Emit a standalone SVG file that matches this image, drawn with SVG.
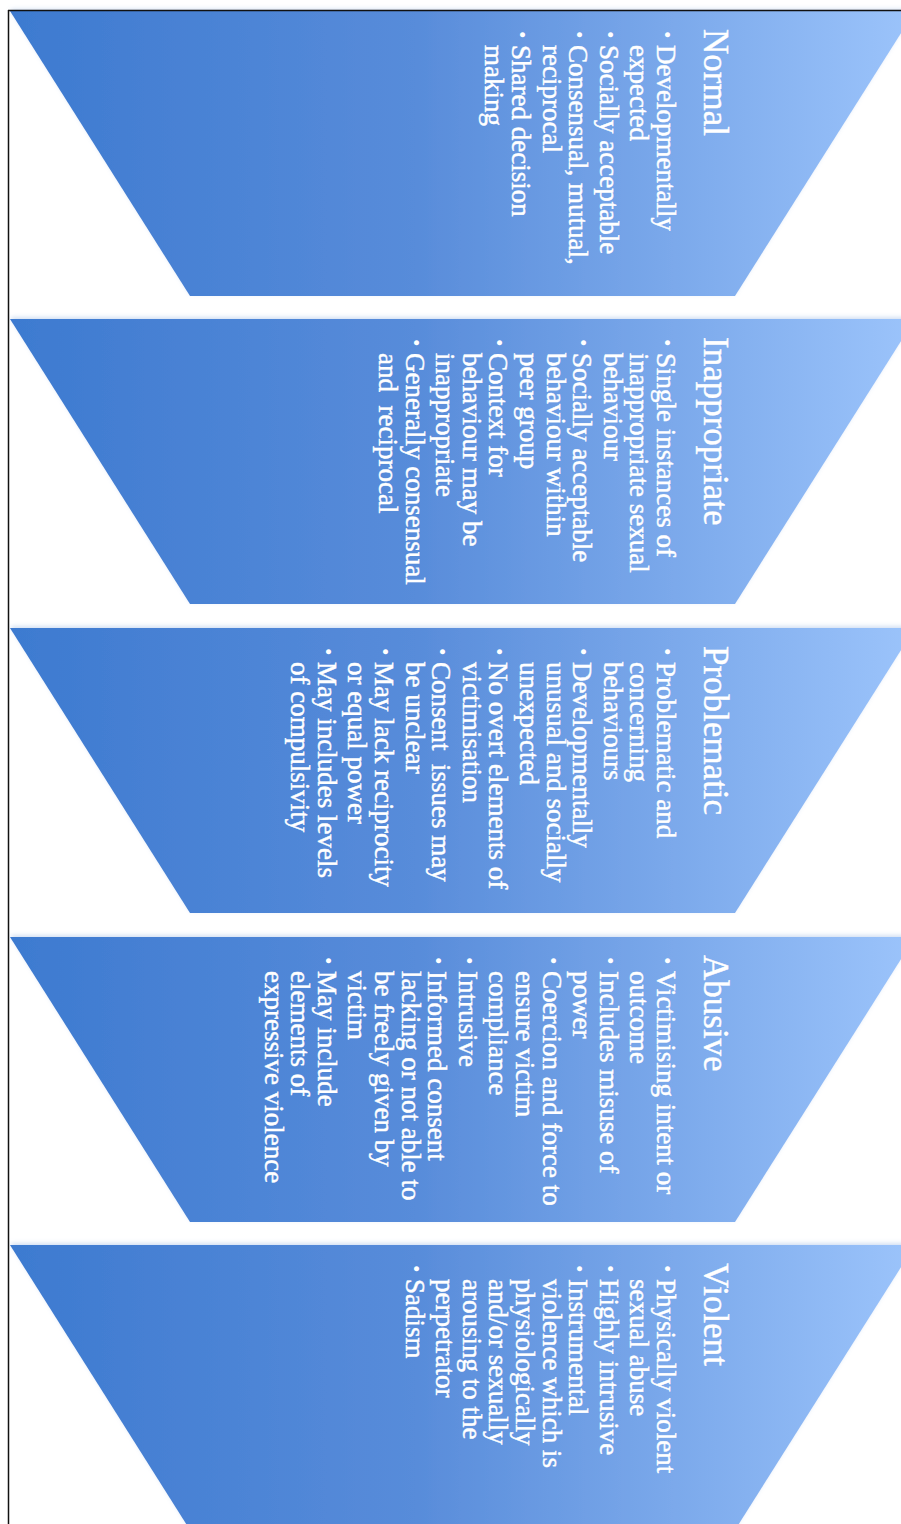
<svg xmlns="http://www.w3.org/2000/svg" width="901" height="1524" viewBox="0 0 901 1524">
<defs>
  <linearGradient id="grad" gradientUnits="userSpaceOnUse" x1="10" y1="0" x2="915" y2="0">
    <stop offset="0" stop-color="#3d7ad0"/>
    <stop offset="0.45" stop-color="#588cda"/>
    <stop offset="1" stop-color="#9cc4fb"/>
  </linearGradient>
  <filter id="sh" x="-5%" y="-5%" width="110%" height="110%">
    <feDropShadow dx="0" dy="-2" stdDeviation="2" flood-color="#7fa6dc" flood-opacity="0.35"/>
  </filter>
  <style>
    .trap { fill: url(#grad); filter: url(#sh); }
    .h { font-family: "Liberation Serif", "Times New Roman", serif; font-size: 35px; fill: #ffffff; stroke: #ffffff; stroke-width: 0.4px; }
    .b { font-family: "Liberation Serif", "Times New Roman", serif; font-size: 27px; fill: #ffffff; stroke: #ffffff; stroke-width: 0.45px; }
    .d { font-family: "Liberation Serif", "Times New Roman", serif; font-size: 21px; fill: #ffffff; }
    .frame { stroke: #111111; stroke-width: 1.5; fill: none; }
  </style>
</defs>
<rect x="0" y="0" width="901" height="1524" fill="#ffffff"/>

<g id="node-normal">
  <polygon class="trap" points="10,11 915,11 735,296 190,296"/>
  <g transform="translate(704,29) rotate(90)">
    <text class="h" x="0" y="0">Normal</text>
    <text class="d" x="2" y="44">•</text><text class="b" x="16" y="47">Developmentally</text>
    <text class="b" x="16" y="73.6">expected</text>
    <text class="d" x="2" y="101.2">•</text><text class="b" x="16" y="104.2">Socially acceptable</text>
    <text class="d" x="2" y="131.8">•</text><text class="b" x="16" y="134.8">Consensual, mutual,</text>
    <text class="b" x="16" y="161.4">reciprocal</text>
    <text class="d" x="2" y="189">•</text><text class="b" x="16" y="192">Shared decision</text>
    <text class="b" x="16" y="218.6">making</text>
  </g>
</g>

<g id="node-inappropriate">
  <polygon class="trap" points="10,319 915,319 735,604 190,604"/>
  <g transform="translate(704,337) rotate(90)">
    <text class="h" x="0" y="0">Inappropriate</text>
    <text class="d" x="2" y="44">•</text><text class="b" x="16" y="47">Single instances of</text>
    <text class="b" x="16" y="73.6">inappropriate sexual</text>
    <text class="b" x="16" y="100.2">behaviour</text>
    <text class="d" x="2" y="127.8">•</text><text class="b" x="16" y="130.8">Socially acceptable</text>
    <text class="b" x="16" y="157.4">behaviour within</text>
    <text class="b" x="16" y="184">peer group</text>
    <text class="d" x="2" y="211.6">•</text><text class="b" x="16" y="214.6">Context for</text>
    <text class="b" x="16" y="241.2">behaviour may be</text>
    <text class="b" x="16" y="267.8">inappropriate</text>
    <text class="d" x="2" y="295.4">•</text><text class="b" x="16" y="298.4">Generally consensual</text>
    <text class="b" x="16" y="325" xml:space="preserve">and  reciprocal</text>
  </g>
</g>

<g id="node-problematic">
  <polygon class="trap" points="10,628 915,628 735,913 190,913"/>
  <g transform="translate(704,646) rotate(90)">
    <text class="h" x="0" y="0">Problematic</text>
    <text class="d" x="2" y="44">•</text><text class="b" x="16" y="47">Problematic and</text>
    <text class="b" x="16" y="73.6">concerning</text>
    <text class="b" x="16" y="100.2">behaviours</text>
    <text class="d" x="2" y="127.8">•</text><text class="b" x="16" y="130.8">Developmentally</text>
    <text class="b" x="16" y="157.4">unusual and socially</text>
    <text class="b" x="16" y="184">unexpected</text>
    <text class="d" x="2" y="211.6">•</text><text class="b" x="16" y="214.6">No overt elements of</text>
    <text class="b" x="16" y="241.2">victimisation</text>
    <text class="d" x="2" y="268.8">•</text><text class="b" x="16" y="271.8" xml:space="preserve">Consent  issues may</text>
    <text class="b" x="16" y="298.4">be unclear</text>
    <text class="d" x="2" y="326">•</text><text class="b" x="16" y="329">May lack reciprocity</text>
    <text class="b" x="16" y="355.6">or equal power</text>
    <text class="d" x="2" y="383.2">•</text><text class="b" x="16" y="386.2">May includes levels</text>
    <text class="b" x="16" y="412.8">of compulsivity</text>
  </g>
</g>

<g id="node-abusive">
  <polygon class="trap" points="10,937 915,937 735,1222 190,1222"/>
  <g transform="translate(704,955) rotate(90)">
    <text class="h" x="0" y="0">Abusive</text>
    <text class="d" x="2" y="44">•</text><text class="b" x="16" y="47">Victimising intent or</text>
    <text class="b" x="16" y="73.6">outcome</text>
    <text class="d" x="2" y="101.2">•</text><text class="b" x="16" y="104.2">Includes misuse of</text>
    <text class="b" x="16" y="130.8">power</text>
    <text class="d" x="2" y="158.4">•</text><text class="b" x="16" y="161.4">Coercion and force to</text>
    <text class="b" x="16" y="188">ensure victim</text>
    <text class="b" x="16" y="214.6">compliance</text>
    <text class="d" x="2" y="242.2">•</text><text class="b" x="16" y="245.2">Intrusive</text>
    <text class="d" x="2" y="272.8">•</text><text class="b" x="16" y="275.8">Informed consent</text>
    <text class="b" x="16" y="302.4">lacking or not able to</text>
    <text class="b" x="16" y="329">be freely given by</text>
    <text class="b" x="16" y="355.6">victim</text>
    <text class="d" x="2" y="383.2">•</text><text class="b" x="16" y="386.2">May include</text>
    <text class="b" x="16" y="412.8">elements of</text>
    <text class="b" x="16" y="439.4">expressive violence</text>
  </g>
</g>

<g id="node-violent">
  <polygon class="trap" points="10,1245 915,1245 735,1530 190,1530"/>
  <g transform="translate(704,1263) rotate(90)">
    <text class="h" x="0" y="0">Violent</text>
    <text class="d" x="2" y="44">•</text><text class="b" x="16" y="47">Physically violent</text>
    <text class="b" x="16" y="73.6">sexual abuse</text>
    <text class="d" x="2" y="101.2">•</text><text class="b" x="16" y="104.2">Highly intrusive</text>
    <text class="d" x="2" y="131.8">•</text><text class="b" x="16" y="134.8">Instrumental</text>
    <text class="b" x="16" y="161.4">violence which is</text>
    <text class="b" x="16" y="188">physiologically</text>
    <text class="b" x="16" y="214.6">and/or sexually</text>
    <text class="b" x="16" y="241.2">arousing to the</text>
    <text class="b" x="16" y="267.8">perpetrator</text>
    <text class="d" x="2" y="295.4">•</text><text class="b" x="16" y="298.4">Sadism</text>
  </g>
</g>

<g id="connectors"></g>

<g id="frame">
  <line class="frame" x1="8" y1="10.5" x2="901" y2="10.5"/>
  <line class="frame" x1="8.5" y1="10" x2="8.5" y2="1524"/>
</g>
</svg>
